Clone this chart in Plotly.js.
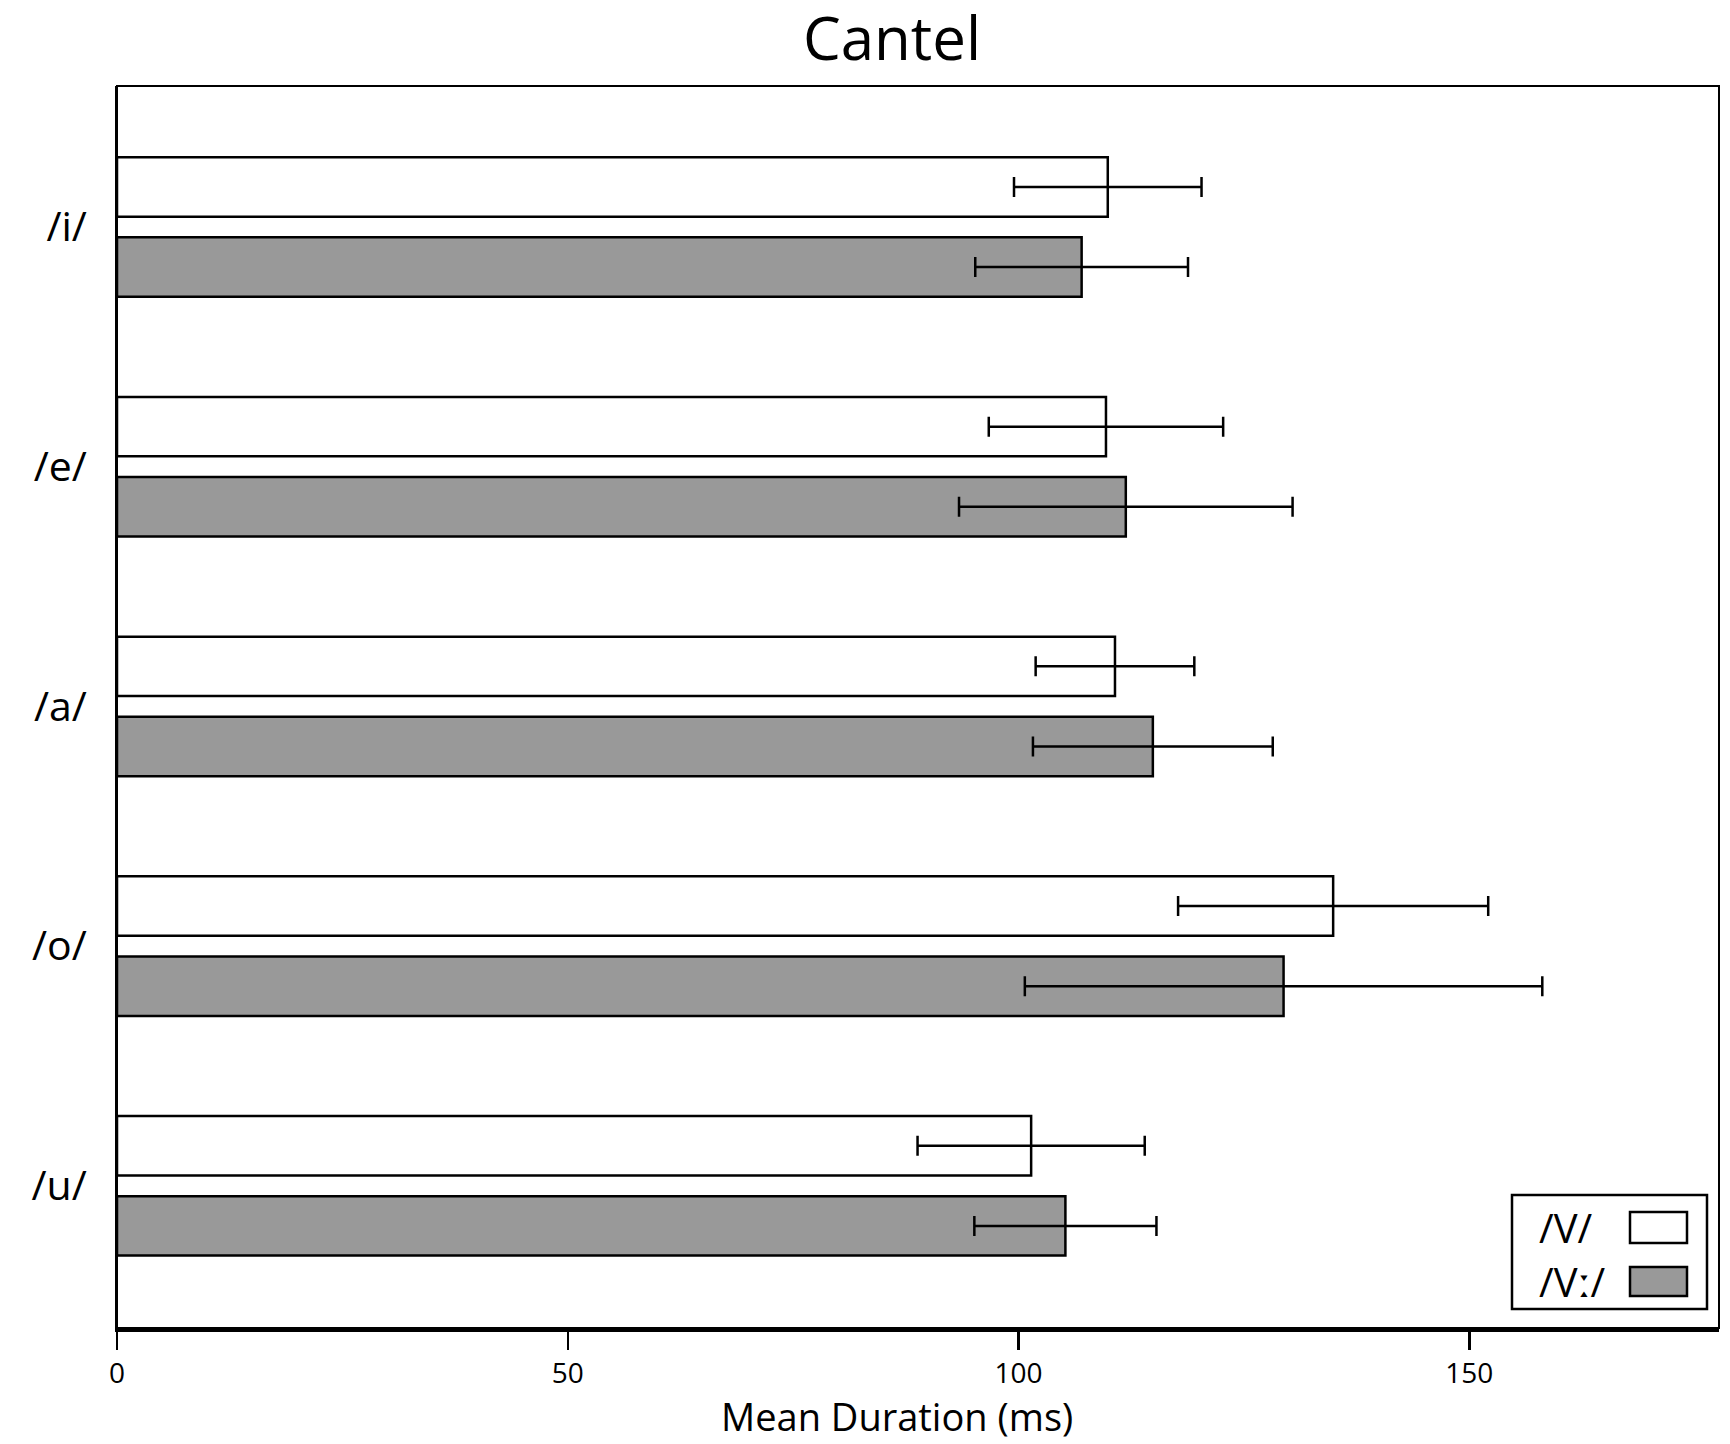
<!DOCTYPE html>
<html>
<head>
<meta charset="utf-8">
<script src="https://cdn.plot.ly/plotly-3.0.1.min.js"></script>
<style>
  html, body { margin: 0; padding: 0; background: #ffffff; }
  #chart { width: 1730px; height: 1444px; }
</style>
</head>
<body>
<div id="chart"></div>
<script>
// Vowel categories (top to bottom)
const vowels = ['/i/', '/e/', '/a/', '/o/', '/u/'];

// Series names
const seriesNames = ['/V/', '/Vː/'];

// Mean durations (ms) and error half-widths
const shortMeans = [109.9, 109.7, 110.7, 134.9, 101.4];
const shortErr   = [10.4, 13.0, 8.8, 17.2, 12.6];
const longMeans  = [107.0, 111.9, 114.9, 129.4, 105.2];
const longErr    = [11.8, 18.5, 13.3, 28.7, 10.1];

// X axis ticks
const xTicks = [0, 50, 100, 150];

const xTitle = 'Mean Duration (ms)';

const FONT = '"Open Sans", "Noto Sans", sans-serif';
const fills = ['#ffffff', '#999999'];

function barTrace(name, vals, errs, fill, offset) {
  return {
    type: 'bar',
    orientation: 'h',
    name: name,
    y: vowels,
    x: vals,
    width: 0.248,
    offset: offset,
    marker: { color: fill, line: { color: '#000000', width: 2.5 } },
    error_x: { type: 'data', array: errs, visible: true, color: '#000000', thickness: 2.5, width: 10 },
    showlegend: false,
    hoverinfo: 'x+y'
  };
}

const data = [
  barTrace(seriesNames[0], shortMeans, shortErr, fills[0], -0.291),
  barTrace(seriesNames[1], longMeans, longErr, fills[1], 0.043)
];

// Plot area in pixels and helpers to convert to paper units
const L = 117, R = 1719, T = 86, B = 1328;
const W = R - L, H = B - T;
const px = x => (x - L) / W;
const py = y => (B - y) / H;

// Legend: label on the left, swatch on the right
const legendShapes = [
  { type: 'rect', xref: 'paper', yref: 'paper',
    x0: px(1512), x1: px(1707), y0: py(1309), y1: py(1195),
    line: { color: '#000000', width: 2.5 }, fillcolor: '#ffffff', layer: 'above' },
  { type: 'rect', xref: 'paper', yref: 'paper',
    x0: px(1630), x1: px(1687), y0: py(1243), y1: py(1212),
    line: { color: '#000000', width: 2.5 }, fillcolor: fills[0], layer: 'above' },
  { type: 'rect', xref: 'paper', yref: 'paper',
    x0: px(1630), x1: px(1687), y0: py(1296), y1: py(1267),
    line: { color: '#000000', width: 2.5 }, fillcolor: fills[1], layer: 'above' }
];

const textAnnotations = [
  { xref: 'paper', yref: 'paper', x: px(1537), y: py(1227), xanchor: 'left', yanchor: 'middle',
    text: seriesNames[0], showarrow: false, font: { family: FONT, size: 40, color: '#000000' } },
  { xref: 'paper', yref: 'paper', x: px(1537), y: py(1281), xanchor: 'left', yanchor: 'middle',
    text: seriesNames[1], showarrow: false, font: { family: FONT, size: 40, color: '#000000' } },
  // x axis title, low in the bottom margin
  { xref: 'paper', yref: 'paper', x: px(897), y: py(1416), xanchor: 'center', yanchor: 'middle',
    text: xTitle, showarrow: false, font: { family: FONT, size: 38, color: '#000000' } }
];

// Plot frame
const frame = {
  type: 'rect', xref: 'paper', yref: 'paper', x0: 0, x1: 1, y0: 0, y1: 1,
  line: { color: '#000000', width: 2 }, layer: 'above'
};

const layout = {
  width: 1730,
  height: 1444,
  paper_bgcolor: '#ffffff',
  plot_bgcolor: '#ffffff',
  margin: { l: L, r: 1730 - R, t: T, b: 1444 - B, pad: 0 },
  barmode: 'overlay',
  showlegend: false,
  font: { family: FONT, color: '#000000' },
  title: {
    text: 'Cantel',
    font: { family: FONT, size: 60, color: '#000000' },
    xref: 'paper', x: px(892), xanchor: 'center',
    yref: 'container', y: 1 - 39 / 1444, yanchor: 'middle'
  },
  xaxis: {
    range: [0, 177.7],
    tickvals: xTicks,
    ticktext: xTicks.map(String),
    ticks: 'outside',
    ticklen: 18,
    tickwidth: 2.5,
    tickcolor: '#000000',
    showline: true,
    linewidth: 3.5,
    linecolor: '#000000',
    showgrid: false,
    zeroline: false,
    tickfont: { family: FONT, size: 28, color: '#000000' },
    fixedrange: true
  },
  yaxis: {
    type: 'category',
    categoryorder: 'array',
    categoryarray: vowels,
    range: [4.593, -0.588],
    ticks: '',
    showline: true,
    linewidth: 2,
    linecolor: '#000000',
    showgrid: false,
    zeroline: false,
    ticklabelstandoff: 20,
    tickfont: { family: FONT, size: 41, color: '#000000' },
    fixedrange: true
  },
  shapes: [frame].concat(legendShapes),
  annotations: textAnnotations
};

Plotly.newPlot('chart', data, layout, { displayModeBar: false, staticPlot: true });
</script>
</body>
</html>
